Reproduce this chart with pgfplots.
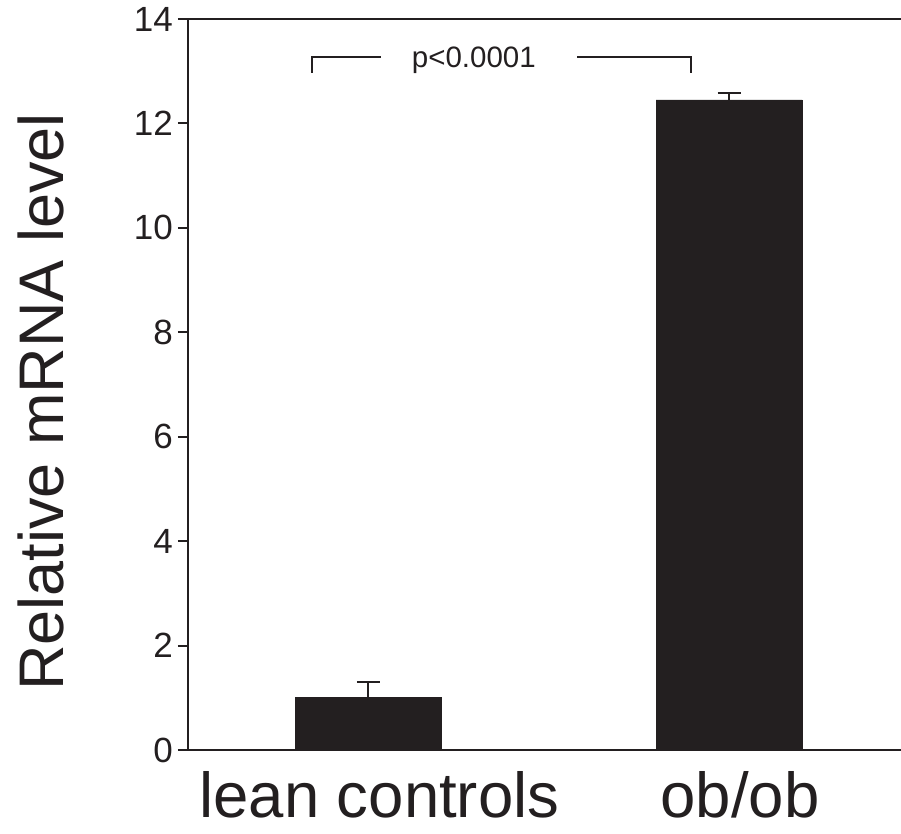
\documentclass[border=0pt]{standalone}
\usepackage{fontspec}
\setmainfont{Liberation Sans}
\usepackage{pgfplots}
\pgfplotsset{compat=1.18}
\definecolor{ink}{HTML}{231F20}

\begin{document}
\begin{tikzpicture}
\path[use as bounding box] (-188pt,-84pt) rectangle (713pt,750pt);
\begin{axis}[
    at={(0,0)}, anchor=south west,
    scale only axis,
    width=713pt, height=731pt,
    xmin=-0.5, xmax=1.4765,
    ymin=0, ymax=14,
    clip=false,
    axis lines=left,
    axis line style={-, line width=2.5pt, ink},
    ytick={0,2,...,14},
    xtick={0,1},
    xticklabels={lean controls, ob/ob},
    xtick align=inside,
    ytick align=outside,
    major tick length=10pt,
    y tick style={line width=2pt, ink},
    x tick style={draw=none},
    /pgf/number format/assume math mode=true,
    yticklabel style={font=\fontsize{35}{40}\selectfont, inner sep=0pt, xshift=-5pt, text=ink},
    xticklabel style={font=\fontsize{63.5}{70}\selectfont, anchor=base, inner sep=0pt, yshift=-67pt, xshift=11pt, text=ink},
    ylabel={Relative mRNA level},
    every axis y label/.style={at={(axis description cs:-0.1753,0.476)}, rotate=90, anchor=base, inner sep=0pt,
        font=\fontsize{63}{70}\selectfont, text=ink},
]
\addplot[ybar, bar width=146pt, fill=ink, draw=ink,
    error bars/.cd, y dir=plus, y explicit,
    error bar style={line width=2pt, ink},
    error mark options={rotate=90, mark size=11.5pt, line width=2pt, ink}]
    coordinates {(0,1.01) +- (0,0.29) (1,12.45) +- (0,0.13)};

% top frame line (the right edge is open)
\draw[line width=2.5pt, ink] (rel axis cs:0,1) -- (rel axis cs:1,1);

% significance bracket
\draw[line width=2pt, ink] (axis cs:-0.155,12.97) |- (axis cs:0.036,13.27);
\draw[line width=2pt, ink] (axis cs:0.579,13.27) -| (axis cs:0.895,12.97);
\node[anchor=base, inner sep=0pt, font=\fontsize{29.5}{32}\selectfont, text=ink] at (axis cs:0.2925,13.08) {p<0.0001};
\end{axis}
\end{tikzpicture}
\end{document}
